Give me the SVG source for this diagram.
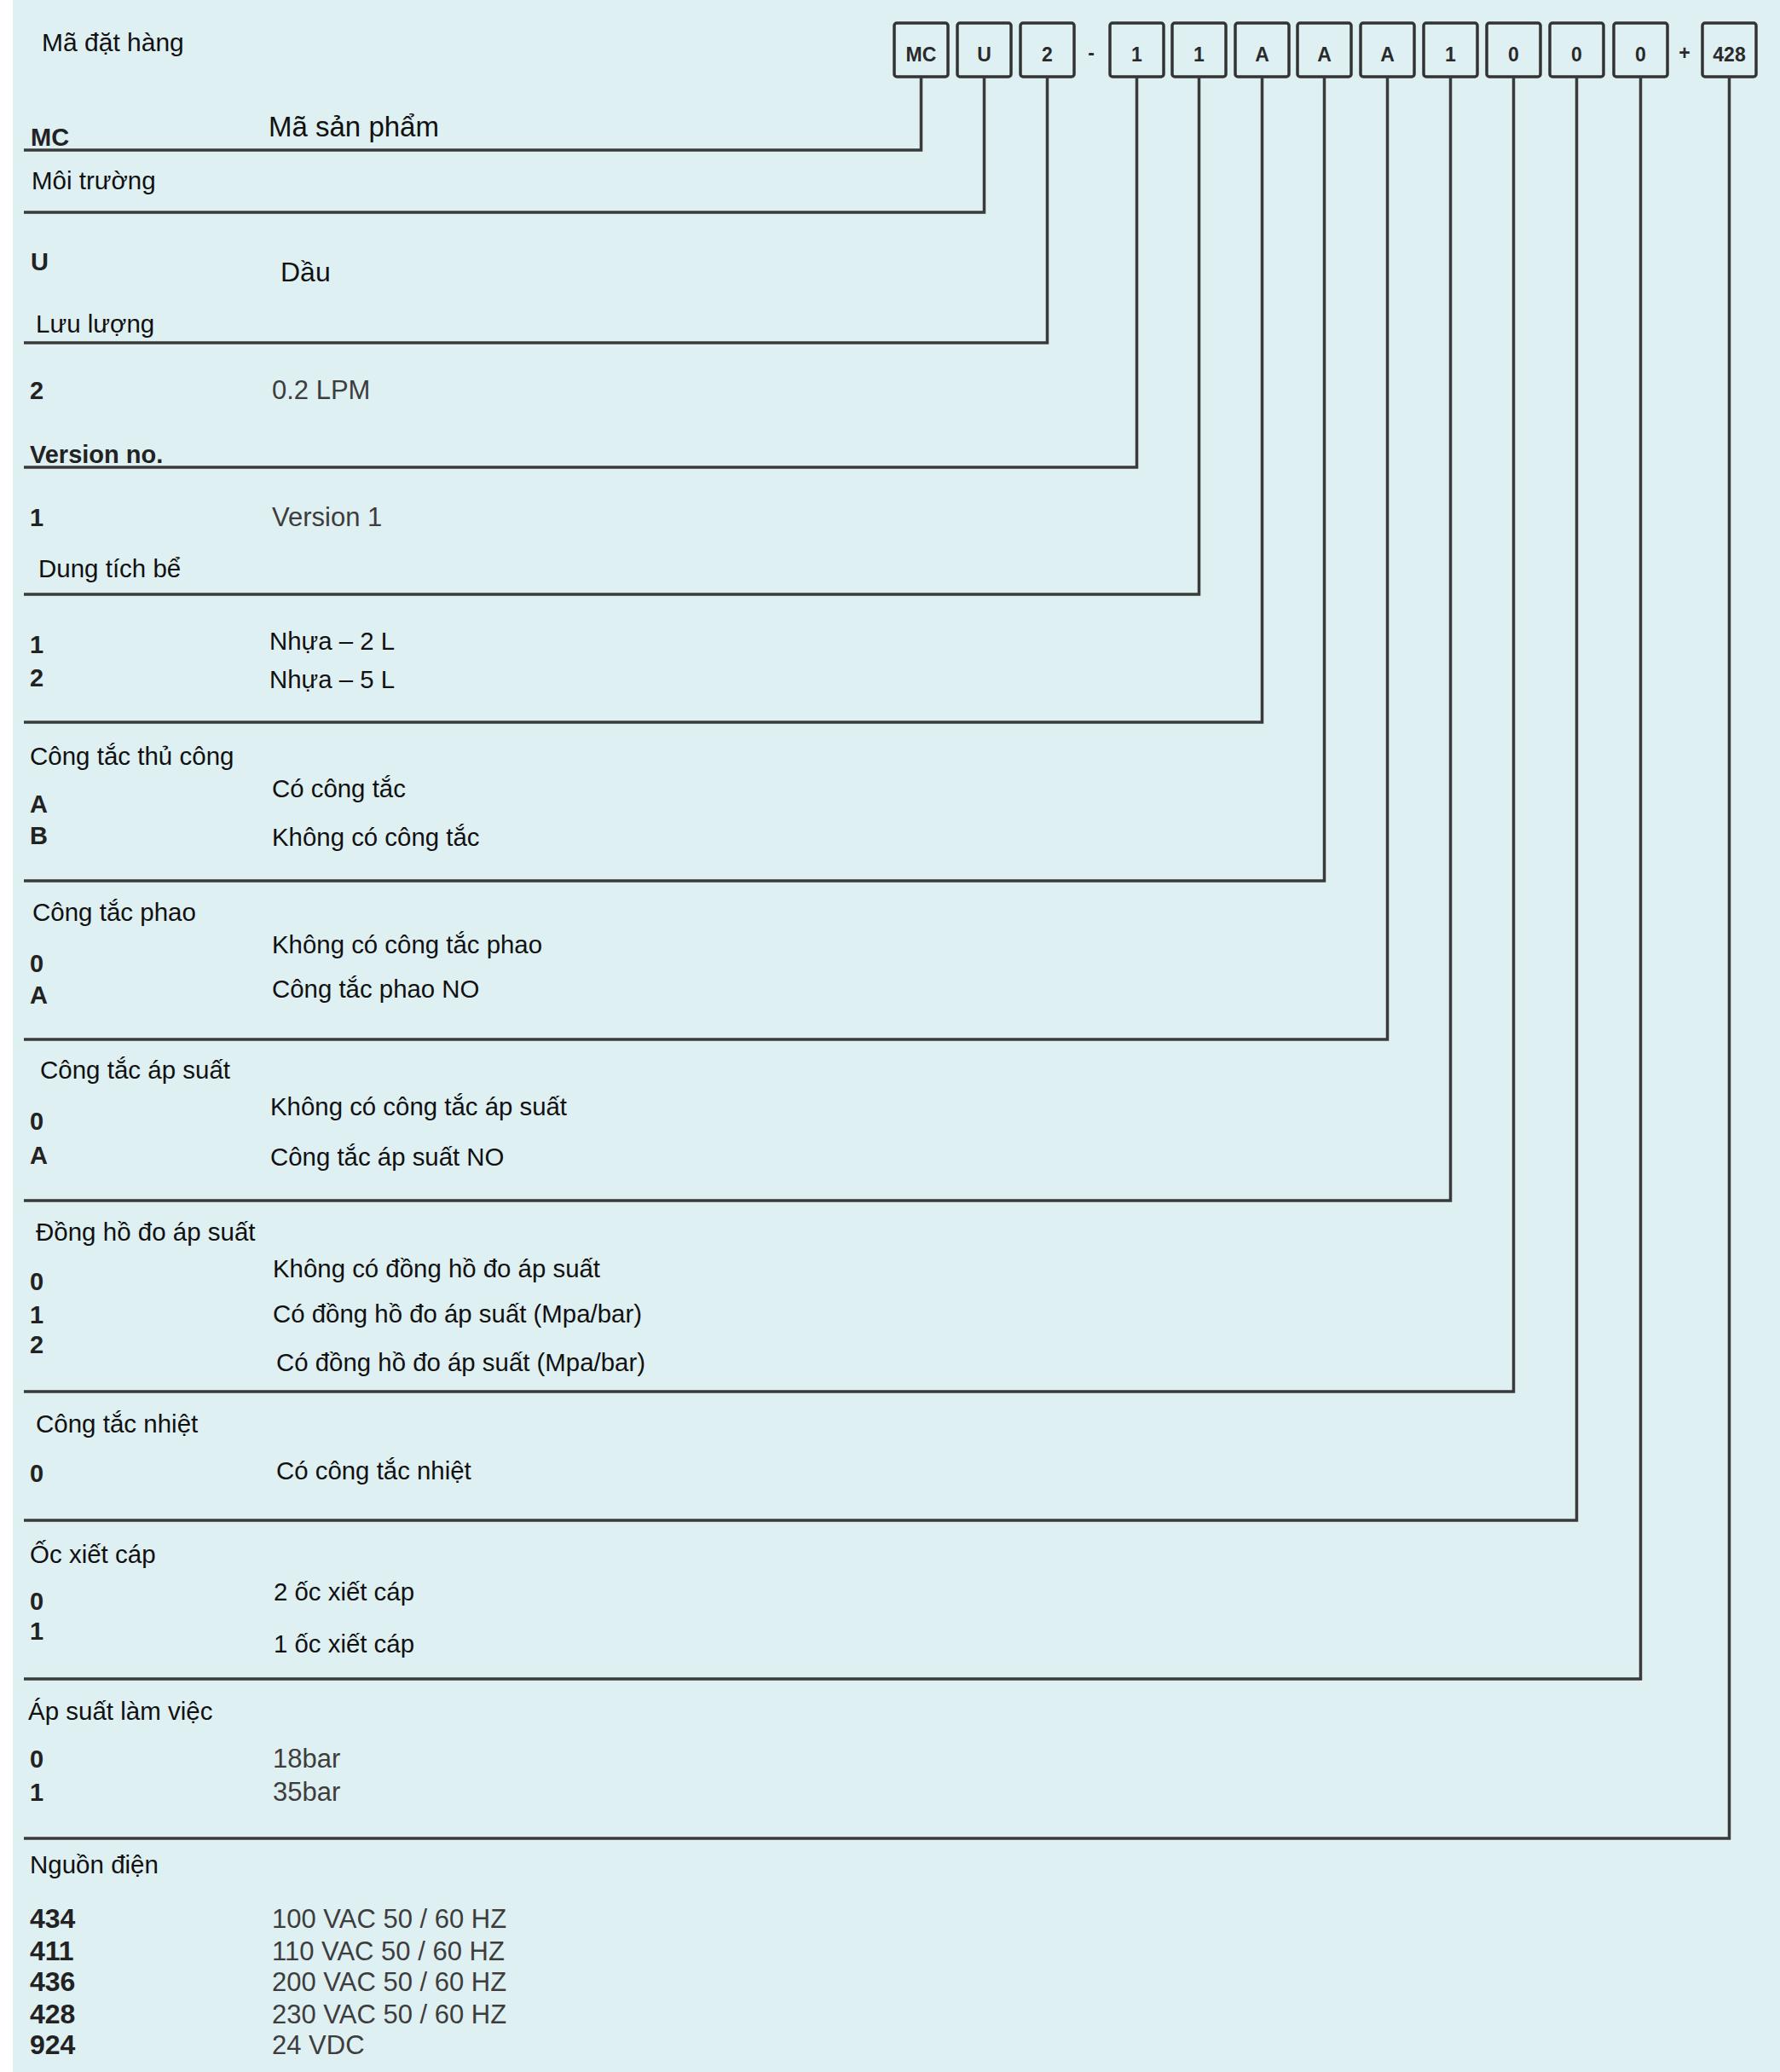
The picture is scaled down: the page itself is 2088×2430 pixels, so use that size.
<svg xmlns="http://www.w3.org/2000/svg" width="2088" height="2430" viewBox="0 0 2088 2430">
<style>
.bg{fill:#dff0f3}
.box{fill:none;stroke:#333;stroke-width:3.5}
.bl{font-family:"Liberation Sans",Arial,sans-serif;font-weight:bold;font-size:23px;fill:#2a2a2a;text-anchor:middle}
.h{font-family:"Liberation Sans",Arial,sans-serif;font-size:29.5px;fill:#111}
.v{font-family:"Liberation Sans",Arial,sans-serif;font-size:29.4px;fill:#111}
.g{font-family:"Liberation Sans",Arial,sans-serif;font-size:31px;fill:#3d3d3d}
.c{font-family:"Liberation Sans",Arial,sans-serif;font-weight:bold;font-size:29px;fill:#222}
.c2{font-family:"Liberation Sans",Arial,sans-serif;font-weight:bold;font-size:32px;fill:#222}
.ln{fill:none;stroke:#3a3a3a;stroke-width:3.5;stroke-linejoin:miter}
</style>
<rect x="0" y="0" width="2088" height="2430" fill="#ffffff"/>
<rect class="bg" x="15" y="0" width="2073" height="2430"/>

<g id="code-boxes">
  <g id="box-mc"><rect class="box" x="1049" y="27" width="63" height="63" rx="3"/><text class="bl" x="1080.5" y="72">MC</text></g>
  <g id="box-u"><rect class="box" x="1123" y="27" width="63" height="63" rx="3"/><text class="bl" x="1154.5" y="72">U</text></g>
  <g id="box-2"><rect class="box" x="1197" y="27" width="63" height="63" rx="3"/><text class="bl" x="1228.5" y="72">2</text></g>
  <text class="bl" x="1280" y="70">-</text>
  <g id="box-1a"><rect class="box" x="1302" y="27" width="63" height="63" rx="3"/><text class="bl" x="1333.5" y="72">1</text></g>
  <g id="box-1b"><rect class="box" x="1375" y="27" width="63" height="63" rx="3"/><text class="bl" x="1406.5" y="72">1</text></g>
  <g id="box-aa"><rect class="box" x="1449" y="27" width="63" height="63" rx="3"/><text class="bl" x="1480.5" y="72">A</text></g>
  <g id="box-ab"><rect class="box" x="1522" y="27" width="63" height="63" rx="3"/><text class="bl" x="1553.5" y="72">A</text></g>
  <g id="box-ac"><rect class="box" x="1596" y="27" width="63" height="63" rx="3"/><text class="bl" x="1627.5" y="72">A</text></g>
  <g id="box-1c"><rect class="box" x="1670" y="27" width="63" height="63" rx="3"/><text class="bl" x="1701.5" y="72">1</text></g>
  <g id="box-0a"><rect class="box" x="1744" y="27" width="63" height="63" rx="3"/><text class="bl" x="1775.5" y="72">0</text></g>
  <g id="box-0b"><rect class="box" x="1818" y="27" width="63" height="63" rx="3"/><text class="bl" x="1849.5" y="72">0</text></g>
  <g id="box-0c"><rect class="box" x="1893" y="27" width="63" height="63" rx="3"/><text class="bl" x="1924.5" y="72">0</text></g>
  <text class="bl" x="1976" y="70">+</text>
  <g id="box-428"><rect class="box" x="1997" y="27" width="63" height="63" rx="3"/><text class="bl" x="2028.5" y="72">428</text></g>
</g>

<g id="connectors">
  <path class="ln" d="M1080.5 90 V176 H28"/>
  <path class="ln" d="M1154.5 90 V249 H28"/>
  <path class="ln" d="M1228.5 90 V402 H28"/>
  <path class="ln" d="M1333.5 90 V548 H28"/>
  <path class="ln" d="M1406.5 90 V697 H28"/>
  <path class="ln" d="M1480.5 90 V847 H28"/>
  <path class="ln" d="M1553.5 90 V1033 H28"/>
  <path class="ln" d="M1627.5 90 V1219 H28"/>
  <path class="ln" d="M1701.5 90 V1408 H28"/>
  <path class="ln" d="M1775.5 90 V1632 H28"/>
  <path class="ln" d="M1849.5 90 V1783 H28"/>
  <path class="ln" d="M1924.5 90 V1969 H28"/>
  <path class="ln" d="M2028.5 90 V2156 H28"/>
</g>

<g id="title"><text class="h" x="49" y="60" style="font-size:30px">Mã đặt hàng</text></g>

<g id="sec-product">
  <text class="c" x="36" y="171">MC</text>
  <text class="v" x="315" y="160" style="font-size:33px">Mã sản phẩm</text>
</g>

<g id="sec-medium">
  <text class="h" x="37" y="222">Môi trường</text>
  <text class="c" x="36" y="317">U</text>
  <text class="v" x="329" y="330" style="font-size:32px">Dầu</text>
</g>

<g id="sec-flow">
  <text class="h" x="42" y="390">Lưu lượng</text>
  <text class="c" x="35" y="468">2</text>
  <text class="g" x="319" y="468">0.2 LPM</text>
</g>

<g id="sec-version">
  <text class="c" x="35" y="543">Version no.</text>
  <text class="c" x="35" y="617">1</text>
  <text class="g" x="319" y="617">Version 1</text>
</g>

<g id="sec-tank">
  <text class="h" x="45" y="677">Dung tích bể</text>
  <text class="c" x="35" y="766">1</text>
  <text class="c" x="35" y="805">2</text>
  <text class="v" x="316" y="762">Nhựa – 2 L</text>
  <text class="v" x="316" y="807">Nhựa – 5 L</text>
</g>

<g id="sec-manual-switch">
  <text class="h" x="35" y="897">Công tắc thủ công</text>
  <text class="c" x="35" y="953">A</text>
  <text class="c" x="35" y="990">B</text>
  <text class="v" x="319" y="935">Có công tắc</text>
  <text class="v" x="319" y="992">Không có công tắc</text>
</g>

<g id="sec-float-switch">
  <text class="h" x="38" y="1080">Công tắc phao</text>
  <text class="c" x="35" y="1140">0</text>
  <text class="c" x="35" y="1177">A</text>
  <text class="v" x="319" y="1118">Không có công tắc phao</text>
  <text class="v" x="319" y="1170">Công tắc phao NO</text>
</g>

<g id="sec-pressure-switch">
  <text class="h" x="47" y="1265">Công tắc áp suất</text>
  <text class="c" x="35" y="1325">0</text>
  <text class="c" x="35" y="1365">A</text>
  <text class="v" x="317" y="1308">Không có công tắc áp suất</text>
  <text class="v" x="317" y="1367">Công tắc áp suất NO</text>
</g>

<g id="sec-gauge">
  <text class="h" x="42" y="1455">Đồng hồ đo áp suất</text>
  <text class="c" x="35" y="1513">0</text>
  <text class="c" x="35" y="1552">1</text>
  <text class="c" x="35" y="1587">2</text>
  <text class="v" x="320" y="1498">Không có đồng hồ đo áp suất</text>
  <text class="v" x="320" y="1551">Có đồng hồ đo áp suất (Mpa/bar)</text>
  <text class="v" x="324" y="1608">Có đồng hồ đo áp suất (Mpa/bar)</text>
</g>

<g id="sec-thermal">
  <text class="h" x="42" y="1680">Công tắc nhiệt</text>
  <text class="c" x="35" y="1738">0</text>
  <text class="v" x="324" y="1735">Có công tắc nhiệt</text>
</g>

<g id="sec-gland">
  <text class="h" x="35" y="1833">Ốc xiết cáp</text>
  <text class="c" x="35" y="1888">0</text>
  <text class="c" x="35" y="1923">1</text>
  <text class="v" x="321" y="1877">2 ốc xiết cáp</text>
  <text class="v" x="321" y="1938">1 ốc xiết cáp</text>
</g>

<g id="sec-working-pressure">
  <text class="h" x="33" y="2017">Áp suất làm việc</text>
  <text class="c" x="35" y="2073">0</text>
  <text class="c" x="35" y="2112">1</text>
  <text class="g" x="320" y="2073">18bar</text>
  <text class="g" x="320" y="2112">35bar</text>
</g>

<g id="sec-power">
  <text class="h" x="35" y="2197">Nguồn điện</text>
  <text class="c2" x="35" y="2261">434</text>
  <text class="c2" x="35" y="2299">411</text>
  <text class="c2" x="35" y="2335">436</text>
  <text class="c2" x="35" y="2373">428</text>
  <text class="c2" x="35" y="2409">924</text>
  <text class="g" x="319" y="2261">100 VAC 50 / 60 HZ</text>
  <text class="g" x="319" y="2299">110 VAC 50 / 60 HZ</text>
  <text class="g" x="319" y="2335">200 VAC 50 / 60 HZ</text>
  <text class="g" x="319" y="2373">230 VAC 50 / 60 HZ</text>
  <text class="g" x="319" y="2409">24 VDC</text>
</g>
</svg>
